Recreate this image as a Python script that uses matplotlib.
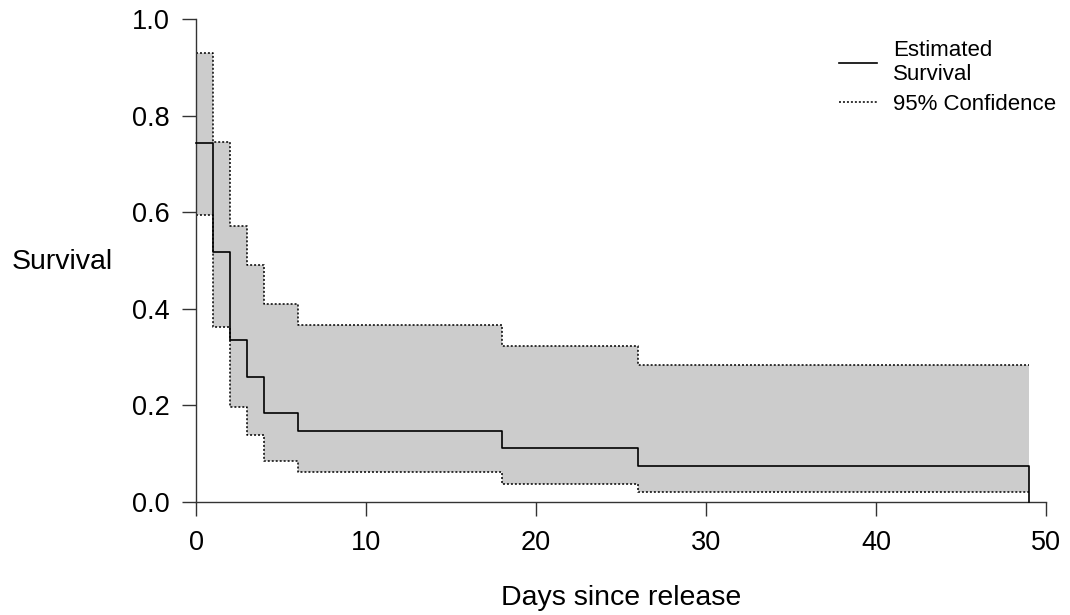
import matplotlib
matplotlib.use("Agg")
import matplotlib.pyplot as plt
import numpy as np

plt.rcParams['font.family'] = ['Liberation Sans', 'DejaVu Sans']

# Kaplan-Meier style estimates (step changes at these days)
days = [0, 1, 2, 3, 4, 6, 18, 26, 49]
survival = [0.743, 0.518, 0.335, 0.259, 0.185, 0.148, 0.111, 0.074, 0.0]
upper_ci = [0.930, 0.746, 0.571, 0.490, 0.410, 0.366, 0.323, 0.283]
lower_ci = [0.594, 0.362, 0.197, 0.139, 0.085, 0.062, 0.037, 0.021]

xticks = [0, 10, 20, 30, 40, 50]
yticks = [0.0, 0.2, 0.4, 0.6, 0.8, 1.0]

fig = plt.figure(figsize=(10.7, 6.15), dpi=100)
ax = fig.add_axes([196 / 1070, 1 - 502 / 615, 850 / 1070, 483 / 615])

t = np.array(days, dtype=float)
up = np.array(upper_ci + [upper_ci[-1]])
lo = np.array(lower_ci + [lower_ci[-1]])

# confidence band
ax.fill_between(t, lo, up, step='post', color='#cccccc', linewidth=0, zorder=1)
dots = (0, (1.3, 1.3))
ax.step(t, up, where='post', color='black', lw=1.1, linestyle=dots, zorder=2)
ax.step(t, lo, where='post', color='black', lw=1.1, linestyle=dots, zorder=2)

# survival estimate
ax.step(t, survival, where='post', color='black', lw=1.2, zorder=3,
        label='Estimated\nSurvival', clip_on=False)
ax.plot([], [], color='black', lw=1.1, linestyle=dots, label='95% Confidence')

ax.set_xlim(0, 50)
ax.set_ylim(0, 1)
ax.set_xticks(xticks)
ax.set_yticks(yticks)
ax.set_xticklabels([str(v) for v in xticks])
ax.set_yticklabels([f"{v:.1f}" for v in yticks])

for s in ['top', 'right']:
    ax.spines[s].set_visible(False)
for s in ['left', 'bottom']:
    ax.spines[s].set_linewidth(1.0)
    ax.spines[s].set_color('#333333')

ax.tick_params(axis='both', direction='out', length=10, width=1.0,
               color='#333333', labelsize=19.5)
ax.tick_params(axis='y', pad=9)
ax.tick_params(axis='x', pad=10)

ax.set_xlabel('Days since release', fontsize=20.5, labelpad=21)
ax.set_ylabel('Survival', fontsize=20.5, rotation=0, va='center', ha='center')
ax.yaxis.set_label_coords((62 - 196) / 850, (502 - 262) / 483)

ax.legend(loc='upper left', bbox_to_anchor=(839 / 1070, 1 - 40 / 615),
          bbox_transform=fig.transFigure, frameon=False, fontsize=16,
          handlelength=1.7, handletextpad=0.75, borderpad=0, borderaxespad=0,
          labelspacing=0.4)

fig.savefig('out.png', dpi=100)
